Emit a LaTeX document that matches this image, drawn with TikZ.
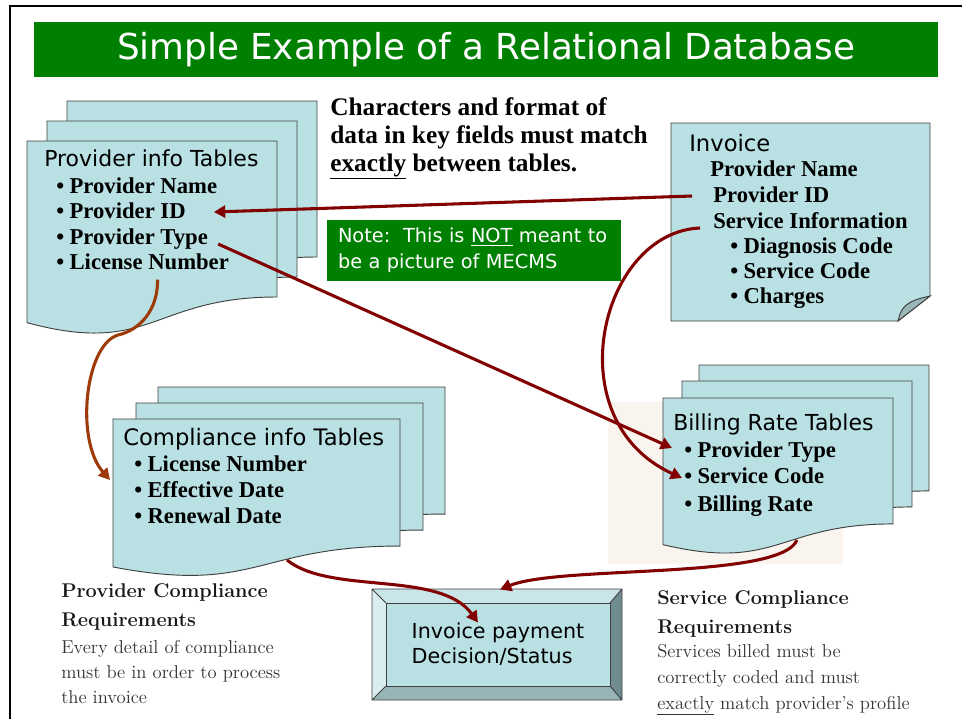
\documentclass[tikz,border=0pt]{standalone}
\usepackage{fontspec}
\newfontfamily\sansf{DejaVu Sans}
\newfontfamily\listf{Liberation Serif}
\usetikzlibrary{arrows.meta}

% page with a wavy lower edge: name, x, y, width, height
\newcommand{\docsheet}[5]{%
  \draw[sheet] (#2,#3) coordinate (#1) -- ({#2+#4},#3) -- ({#2+#4},{#3+0.802*#5})
    .. controls ({#2+0.5*#4},{#3+0.802*#5}) and ({#2+0.5*#4},{#3+1.1075*#5}) .. (#2,{#3+0.934*#5}) -- cycle;}
\newcommand{\bul}{\makebox[10pt][l]{\textbullet}}

\begin{document}
\begin{tikzpicture}[x=0.75pt, y=-0.75pt,
  sheet/.style={draw=black!75, line width=0.7pt, fill=sheetfill},
  head/.style={anchor=base west, inner sep=0pt, font=\sansf\fontsize{16.5}{20}\selectfont},
  item/.style={anchor=base west, inner sep=0pt, font=\listf\bfseries\fontsize{17}{20}\selectfont},
  remark/.style={anchor=base west, inner sep=0pt, font=\listf\bfseries\fontsize{19}{21}\selectfont},
  parahead/.style={anchor=base west, inner sep=0pt, text=black!90, font=\bfseries\fontsize{14.9}{18}\selectfont},
  para/.style={anchor=base west, inner sep=0pt, text=black!80, font=\fontsize{14}{17}\selectfont},
  link/.style={draw=linkred, line width=2.3pt, -{Triangle[length=8.5pt,width=9pt]}}]
  % Define colors
  \definecolor{sheetfill}{HTML}{B9E0E3}
  \definecolor{titlegreen}{HTML}{008000}
  \definecolor{linkred}{HTML}{820000}
  \definecolor{linkbrown}{HTML}{9E3A08}
  \definecolor{foldgray}{HTML}{9AB6B9}
  \definecolor{beige}{HTML}{FAF4EE}
  \definecolor{bevtop}{HTML}{CAE5E8}
  \definecolor{bevleft}{HTML}{D8EDEF}
  \definecolor{bevbottom}{HTML}{97B4B7}
  \definecolor{bevright}{HTML}{6F8D90}

  % Canvas and frame
  \fill[white] (0,0) rectangle (962,719);
  \useasboundingbox (0,0) rectangle (962,719);
  \draw[line width=1.5pt] (10,719) -- (10,6) -- (962,6);

  % Title bar
  \node[fill=titlegreen, text=white, font=\sansf\fontsize{26.8}{30}\selectfont,
    minimum width=678pt, minimum height=41.25pt, inner sep=0pt] (title) at (486,49.5)
    {Simple Example of a Relational Database};

  % Remark on key fields
  \node[remark] (rem1) at (330,115) {Characters and format of};
  \node[remark] (rem2) at (330,143) {data in key fields must match};
  \node[remark] (rem3) at (330,171) {\underline{exactly} between tables.};

  % Note box
  \node[fill=titlegreen, text=white, font=\sansf\fontsize{14.5}{19.5}\selectfont, align=left,
    text width=204pt, inner xsep=8.25pt, inner ysep=0pt, minimum height=45.75pt] (note) at (474,250.5)
    {Note:\ \ This is \underline{NOT} meant to\\be a picture of MECMS};

  % Provider info tables
  \docsheet{provBack}{67}{101}{250}{194.5}
  \docsheet{provMid}{47}{121}{250}{194.5}
  \docsheet{provSheet}{27}{141}{250}{194.5}
  \node[head] (provHead) at (44,166) {Provider info Tables};
  \node[item] (provName) at (56,193) {\bul Provider Name};
  \node[item] (provID) at (56,218) {\bul Provider ID};
  \node[item] (provType) at (56,244) {\bul Provider Type};
  \node[item] (provLic) at (56,269) {\bul License Number};

  % Invoice page with folded corner
  \draw[sheet] (671,123) coordinate (invSheet) -- (930,123) -- (930,296) -- (898,321) -- (671,321) -- cycle;
  \draw[sheet, fill=foldgray] (898,321) .. controls (901,307) and (906,301) .. (930,296) -- cycle;
  \node[head, font=\sansf\fontsize{17}{20}\selectfont] (invHead) at (689,151) {Invoice};
  \node[item] (invName) at (710,176) {Provider Name};
  \node[item] (invID) at (713,202) {Provider ID};
  \node[item] (invSvc) at (713,228) {Service Information};
  \node[item] (invDiag) at (730,253) {\bul Diagnosis Code};
  \node[item] (invCode) at (730,278) {\bul Service Code};
  \node[item] (invChg) at (730,303) {\bul Charges};

  % Billing rate tables
  \fill[beige] (608,402) rectangle (843,564);
  \docsheet{billBack}{699}{365}{230}{157}
  \docsheet{billMid}{682}{381}{230}{157}
  \docsheet{billSheet}{663}{398}{230}{157}
  \node[head] (billHead) at (673,430) {Billing Rate Tables};
  \node[item] (billType) at (684,457) {\bul Provider Type};
  \node[item] (billCode) at (684,483) {\bul Service Code};
  \node[item] (billRate) at (684,511) {\bul Billing Rate};

  % Compliance info tables
  \docsheet{cmpBack}{158}{387}{287}{158.4}
  \docsheet{cmpMid}{136}{403}{287}{158.4}
  \docsheet{cmpSheet}{113}{419}{287}{158.4}
  \node[head, font=\sansf\fontsize{17}{20}\selectfont] (cmpHead) at (123,445) {Compliance info Tables};
  \node[item] (cmpLic) at (134,471) {\bul License Number};
  \node[item] (cmpEff) at (134,497) {\bul Effective Date};
  \node[item] (cmpRen) at (134,523) {\bul Renewal Date};

  % Decision button with bevel
  \fill[bevtop] (372,589) -- (622,589) -- (610,603) -- (386,603) -- cycle;
  \fill[bevleft] (372,589) -- (386,603) -- (386,686) -- (372,700) -- cycle;
  \fill[bevbottom] (372,700) -- (386,686) -- (610,686) -- (622,700) -- cycle;
  \fill[bevright] (622,589) -- (622,700) -- (610,686) -- (610,603) -- cycle;
  \draw[black!75, line width=0.7pt] (372,589) rectangle (622,700)
    (372,589) -- (386,603) (622,589) -- (610,603) (372,700) -- (386,686) (622,700) -- (610,686);
  \node[draw=black!75, line width=0.7pt, fill=sheetfill, minimum width=168pt, minimum height=62.25pt,
    inner sep=0pt, align=left, font=\sansf\fontsize{15.5}{18.75}\selectfont] (decision) at (498,644.5)
    {Invoice payment\\Decision/Status};

  % Requirement notes
  \node[parahead] (pcHead1) at (61,597) {Provider Compliance};
  \node[parahead] (pcHead2) at (61,626) {Requirements};
  \node[para] (pcText1) at (61,653) {Every detail of compliance};
  \node[para] (pcText2) at (61,678) {must be in order to process};
  \node[para] (pcText3) at (61,703) {the invoice};
  \node[parahead] (scHead1) at (657,604) {Service Compliance};
  \node[parahead] (scHead2) at (657,633) {Requirements};
  \node[para] (scText1) at (657,657) {Services billed must be};
  \node[para] (scText2) at (657,683) {correctly coded and must};
  \node[para] (scText3) at (657,709) {\underline{exactly} match provider’s profile};

  % Key field links
  \draw[link] ([shift={(-21,-6)}]invID.base west) -- ([shift={(28,-6)}]provID.base east);
  \draw[link] ([shift={(10,0)}]provType.base east) -- ([shift={(-12,-9)}]billType.base west);
  \draw[link] ([shift={(-13,0)}]invSvc.base west) .. controls (600,232) and (555,420)
    .. ([shift={(-2,-5)}]billCode.base west);
  \draw[link, draw=linkbrown] ([shift={(15,10)}]provLic.south) .. controls (158,310) and (140,330)
    .. (118,335) .. controls (85,345) and (75,440) .. ([shift={(-3,61)}]cmpSheet);
  % Flows into the decision
  \draw[link] ([shift={(174,141)}]cmpSheet) .. controls (330,595) and (440,570)
    .. ([shift={(-20,20)}]decision.north);
  \draw[link] ([shift={(134,142)}]billSheet) .. controls (780,580) and (560,565)
    .. ([shift={(2,-13)}]decision.north);
\end{tikzpicture}
\end{document}
